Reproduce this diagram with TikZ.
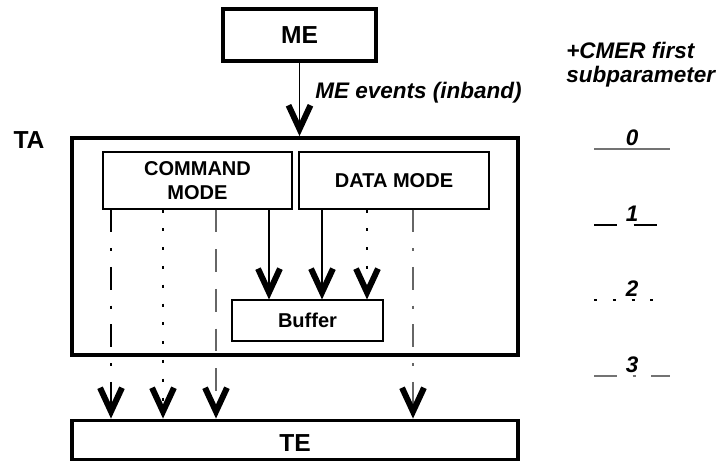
\documentclass[tikz,border=0pt]{standalone}
\usepackage{fontspec}
\setmainfont{Liberation Sans}
\usetikzlibrary{arrows.meta}

\tikzset{
  hop/.style={draw, line width=2.2pt, inner sep=0pt},
  hopnho/.style={draw, line width=0.6pt, inner sep=0pt, align=center,
    font=\fontsize{11.4}{13.6}\selectfont\bfseries},
  chu/.style={inner sep=0pt, font=\fontsize{14}{17}\selectfont\bfseries},
  nghieng/.style={inner sep=0pt, font=\fontsize{12.8}{15}\selectfont\bfseries\itshape},
  muiten/.style={line width=0.6pt,
    -{Straight Barb[length=13.5pt,width=12.5pt,line width=3.4pt,sharp,black]}},
  kieu0/.style={solid},
  kieu1/.style={dash pattern=on 13pt off 9.6pt},
  kieu2/.style={dash pattern=on 1.7pt off 9pt},
  kieu3/.style={dash pattern=on 13pt off 9pt on 1.7pt off 9pt},
}

\begin{document}
\begin{tikzpicture}[x=0.02cm, y=-0.02cm]
  \useasboundingbox[fill=white] (0,0) rectangle (720,461);
  % Vẽ các hộp
  \node[hop, chu, minimum width=3.06cm, minimum height=1.04cm] (me) at (299.5,35) {ME};
  \node[hop, minimum width=8.92cm, minimum height=4.34cm] (ta) at (295,246.5) {};
  \node[chu] (talbl) at (29,140) {TA};
  \node[hopnho, minimum width=3.78cm, minimum height=1.14cm] (cmd) at (197.5,180.5) {COMMAND\\MODE};
  \node[hopnho, minimum width=3.8cm, minimum height=1.14cm] (data) at (394,180.5) {DATA MODE};
  \node[hopnho, minimum width=3.02cm, minimum height=0.82cm] (buf) at (307.5,320.5) {Buffer};
  \node[hop, chu, text height=13pt, minimum width=8.92cm, minimum height=0.78cm] (te) at (295,440) {TE};
  % Mũi tên từ ME
  \draw[muiten] (me.south) -- (me.south |- ta.north);
  \node[nghieng, anchor=base west] (ev) at (315,98) {ME events (inband)};
  % Đường từ COMMAND MODE
  \draw[muiten, kieu3] (111,0 |- cmd.south) -- (111,0 |- te.north);
  \draw[muiten, kieu2] (163,0 |- cmd.south) -- (163,0 |- te.north);
  \draw[muiten, kieu1, draw=black!60] (216,0 |- cmd.south) -- (216,0 |- te.north);
  \draw[muiten] (269,0 |- cmd.south) -- (269,0 |- buf.north);
  % Đường từ DATA MODE
  \draw[muiten] (322,0 |- data.south) -- (322,0 |- buf.north);
  \draw[muiten, kieu2] (367,0 |- data.south) -- (367,0 |- buf.north);
  \draw[muiten, kieu3, draw=black!60] (413,0 |- data.south) -- (413,0 |- te.north);
  % Chú thích
  \node[nghieng, anchor=base west] (cmer) at (566,58) {+CMER first};
  \node[nghieng, anchor=base west] (sub) at (566,82) {subparameter};
  \foreach \k/\y/\xe/\mau in {0/149/670/black!55, 1/225/658/black, 2/300/656/black, 3/376/670/black!55}{
    \draw[kieu\k, draw=\mau, line width=0.6pt] (594,\y) -- (\xe,\y);
    \node[nghieng, anchor=base] (so\k) at (632,\y-4) {\k};
  }
\end{tikzpicture}
\end{document}
